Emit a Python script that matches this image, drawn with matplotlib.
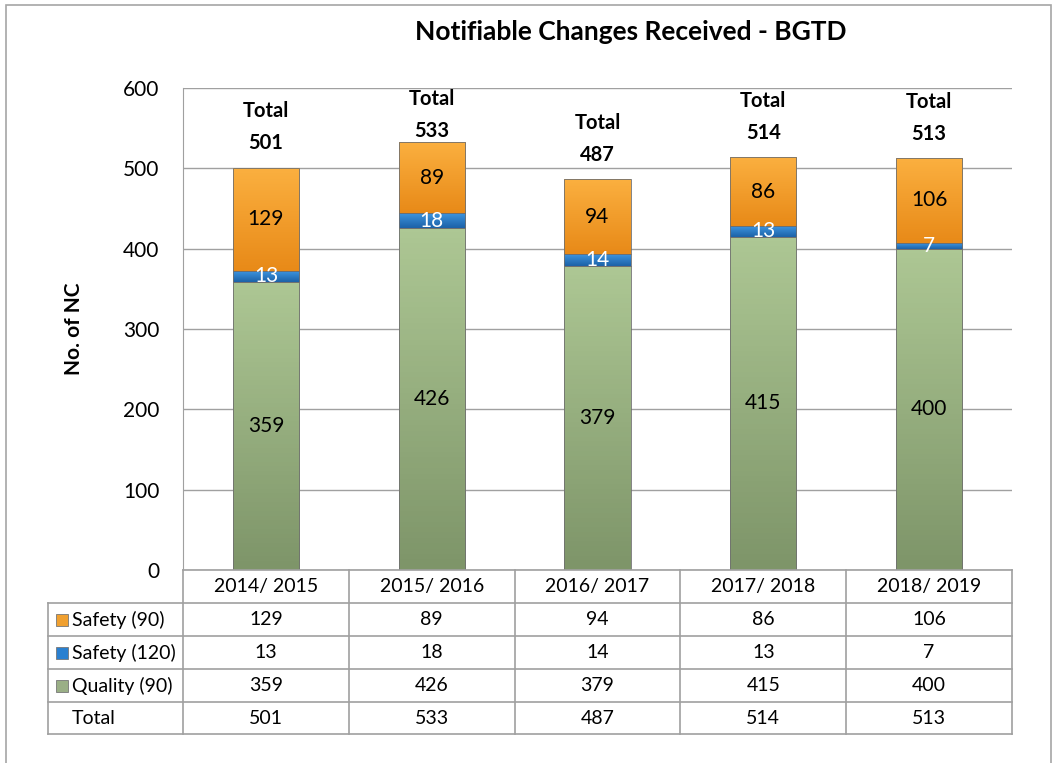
import matplotlib
matplotlib.use("Agg")
import matplotlib.pyplot as plt
import numpy as np
from matplotlib.colors import LinearSegmentedColormap
from matplotlib.patches import Rectangle

plt.rcParams["font.family"] = ["Lato", "DejaVu Sans"]

years = ["2014/ 2015", "2015/ 2016", "2016/ 2017", "2017/ 2018", "2018/ 2019"]
quality_90 = [359, 426, 379, 415, 400]
safety_120 = [13, 18, 14, 13, 7]
safety_90 = [129, 89, 94, 86, 106]
totals = [501, 533, 487, 514, 513]

series = [
    ("Quality (90)", quality_90, ("#7e9569", "#adc794"), "black"),
    ("Safety (120)", safety_120, ("#1c62a8", "#3d94de"), "white"),
    ("Safety (90)", safety_90, ("#e88a18", "#fbb040"), "black"),
]

W, H = 1057, 763
fig = plt.figure(figsize=(W / 100, H / 100), dpi=100)

# outer chart border
fig.patches.append(Rectangle((6 / W, -0.05), (1051 - 6) / W, 1.05 - 5 / H,
                             transform=fig.transFigure, fill=False,
                             edgecolor="#a6a6a6", lw=1.2))

L, R, T, B = 183, 1012, 88, 570
ax = fig.add_axes([L / W, 1 - B / H, (R - L) / W, (B - T) / H])
ax.set_xlim(-0.5, len(years) - 0.5)
ax.set_ylim(0, 600)
ax.set_yticks(range(0, 601, 100))
ax.tick_params(axis="y", length=0, labelsize=15, pad=17)
ax.set_xticks([])
ax.yaxis.grid(True, color="#a0a0a0", lw=1)
ax.set_axisbelow(True)
for s in ["right", "bottom", "top"]:
    ax.spines[s].set_visible(False)
ax.spines["left"].set_color("#a0a0a0")
ax.set_ylabel("No. of NC", fontsize=15, fontweight="bold", labelpad=28)

bw = 0.4
x = np.arange(len(years))
bottom = np.zeros(len(years))
for name, vals, (c0, c1), tc in series:
    cmap = LinearSegmentedColormap.from_list(name, [c0, c1])
    grad = np.linspace(0, 1, 64).reshape(-1, 1)
    for i, v in enumerate(vals):
        y0, y1 = bottom[i], bottom[i] + v
        rect = Rectangle((x[i] - bw / 2, y0), bw, v, facecolor="none",
                         edgecolor="#6f6f6f", lw=0.6, zorder=3)
        ax.add_patch(rect)
        im = ax.imshow(grad, cmap=cmap, origin="lower", aspect="auto",
                       extent=(x[i] - bw / 2, x[i] + bw / 2, y0, y1), zorder=2)
        im.set_clip_path(rect)
        ax.text(x[i], (y0 + y1) / 2, str(v), ha="center", va="center",
                fontsize=15, color=tc, zorder=4)
    bottom += np.array(vals)
ax.set_xlim(-0.5, len(years) - 0.5)
ax.set_ylim(0, 600)

for i, t in enumerate(totals):
    ax.text(x[i], min(t + 50, 566), f"Total\n{t}", ha="center", va="center",
            fontsize=14.5, fontweight="bold", linespacing=1.75, zorder=4)

fig.text((410 + 852) / 2 / W, 1 - 32 / H, "Notifiable Changes Received - BGTD",
         ha="center", va="center", fontsize=19, fontweight="bold")

# data table under the plot
tx = fig.add_axes([0, 0, 1, 1], facecolor="none")
tx.set_xlim(0, W)
tx.set_ylim(H, 0)
tx.axis("off")
rows_y = [570, 603, 636, 669, 702, 734]
col_x = [L + (R - L) * k / len(years) for k in range(len(years) + 1)]
left_x = 48
gc = "#a0a0a0"
tx.plot([L, R], [rows_y[0]] * 2, color=gc, lw=1.2)
for yy in rows_y[1:]:
    tx.plot([left_x, R], [yy, yy], color=gc, lw=1.2)
tx.plot([left_x, left_x], [rows_y[1], rows_y[-1]], color=gc, lw=1.2)
for xx in col_x:
    tx.plot([xx, xx], [rows_y[0], rows_y[-1]], color=gc, lw=1.2)

table_rows = [
    ("Safety (90)", safety_90, "#f0a030"),
    ("Safety (120)", safety_120, "#2a80d0"),
    ("Quality (90)", quality_90, "#9aaf86"),
    ("Total", totals, None),
]
for k, yr in enumerate(years):
    tx.text((col_x[k] + col_x[k + 1]) / 2, (rows_y[0] + rows_y[1]) / 2, yr,
            ha="center", va="center", fontsize=14)
for r, (name, vals, col) in enumerate(table_rows):
    yc = (rows_y[r + 1] + rows_y[r + 2]) / 2
    if col:
        tx.add_patch(Rectangle((56, yc - 6), 12, 12, facecolor=col,
                               edgecolor="#777777", lw=0.6))
    tx.text(72, yc, name, ha="left", va="center", fontsize=14)
    for k, v in enumerate(vals):
        tx.text((col_x[k] + col_x[k + 1]) / 2, yc, str(v), ha="center",
                va="center", fontsize=14)

fig.savefig("out.png", dpi=100)
